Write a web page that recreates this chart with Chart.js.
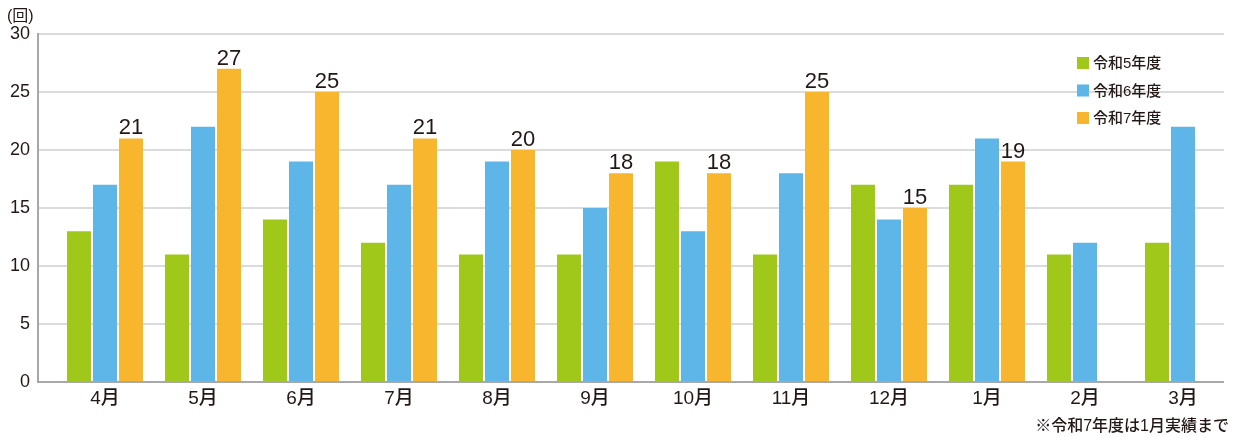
<!DOCTYPE html>
<html>
<head>
<meta charset="utf-8">
<script src="https://cdn.jsdelivr.net/npm/chart.js@4"></script>
<style>
  html, body { margin: 0; padding: 0; background: #fff; }
  #wrap { width: 1242px; height: 437px; position: relative; }
</style>
</head>
<body>
<div id="wrap"><canvas id="canvas"></canvas></div>
<script>
// DATA
const months = ['4月', '5月', '6月', '7月', '8月', '9月', '10月', '11月', '12月', '1月', '2月', '3月'];
const r5 = [13, 11, 14, 12, 11, 11, 19, 11, 17, 17, 11, 12];
const r6 = [17, 22, 19, 17, 19, 15, 13, 18, 14, 21, 12, 22];
const r7 = [21, 27, 25, 21, 20, 18, 18, 25, 15, 19, null, null];
const yTicks = [0, 5, 10, 15, 20, 25, 30];

const FONT = '"Liberation Sans", "Noto Sans CJK JP", sans-serif';
const TEXT = '#231815';

// grid, axis line, value labels, legend and notes
const extras = {
  id: 'extras',
  beforeDatasetsDraw(chart) {
    const ctx = chart.ctx, y = chart.scales.y;
    ctx.save();
    ctx.lineWidth = 1.5;
    ctx.strokeStyle = '#cfcfcf';
    yTicks.forEach(v => {
      if (v === 0) return;
      const py = y.getPixelForValue(v);
      ctx.beginPath(); ctx.moveTo(38, py); ctx.lineTo(1224, py); ctx.stroke();
    });
    ctx.restore();
  },
  afterDatasetsDraw(chart) {
    const ctx = chart.ctx, y = chart.scales.y;
    ctx.save();
    // axes
    ctx.strokeStyle = '#a8a8a8';
    ctx.lineWidth = 2;
    const y0 = y.getPixelForValue(0), yTop = y.getPixelForValue(30);
    ctx.beginPath(); ctx.moveTo(38, yTop - 1); ctx.lineTo(38, y0); ctx.lineTo(1224, y0); ctx.stroke();

    // value labels on 令和7年度
    const meta = chart.getDatasetMeta(2);
    ctx.fillStyle = TEXT;
    ctx.font = '22px ' + FONT;
    ctx.textAlign = 'center';
    ctx.textBaseline = 'alphabetic';
    meta.data.forEach((bar, i) => {
      if (r7[i] == null) return;
      ctx.fillText(String(r7[i]), bar.x, bar.y - 4);
    });

    // legend
    ctx.font = '500 15px ' + FONT;
    ctx.textAlign = 'left';
    ctx.textBaseline = 'middle';
    chart.data.datasets.forEach((ds, i) => {
      const cy = 63 + i * 27.5;
      ctx.fillStyle = ds.backgroundColor;
      ctx.fillRect(1077, cy - 6, 12, 12);
      ctx.fillStyle = TEXT;
      ctx.fillText(ds.label, 1093, cy + 1);
    });

    // unit and note
    ctx.font = '16px ' + FONT;
    ctx.fillText('(回)', 7, 17);
    ctx.font = '500 16px ' + FONT;
    ctx.textAlign = 'right';
    ctx.fillText('※令和7年度は1月実績まで', 1229, 427);
    ctx.restore();
  }
};

const ctx = document.getElementById('canvas').getContext('2d');
const myChart = new Chart(ctx, {
  type: 'bar',
  data: {
    labels: months,
    datasets: [
      { label: '令和5年度', data: r5, backgroundColor: '#a0c81a' },
      { label: '令和6年度', data: r6, backgroundColor: '#5db5e8' },
      { label: '令和7年度', data: r7, backgroundColor: '#f8b62e' }
    ]
  },
  options: {
    responsive: true,
    maintainAspectRatio: false,
    animation: false,
    datasets: { bar: { barPercentage: 0.923, categoryPercentage: 0.796 } },
    layout: { padding: { top: 34, right: 10, left: 0, bottom: 0 } },
    plugins: { legend: { display: false }, tooltip: { enabled: false } },
    scales: {
      x: {
        grid: { display: false, drawTicks: false },
        border: { display: false },
        ticks: { color: TEXT, font: { family: FONT, size: 19, weight: '500' }, padding: 5 },
        afterFit(s) { s.height = 55; }
      },
      y: {
        min: 0, max: 30,
        afterBuildTicks(s) { s.ticks = yTicks.map(v => ({ value: v })); },
        grid: { display: false, drawTicks: false },
        border: { display: false },
        ticks: { color: TEXT, font: { family: FONT, size: 18 }, padding: 26 },
        afterFit(s) {
          s.width = 56;
          // tick padding would otherwise push the plot top down
          s.paddingTop = 0;
          s.paddingBottom = 0;
        }
      }
    }
  },
  plugins: [extras]
});
</script>
</body>
</html>
